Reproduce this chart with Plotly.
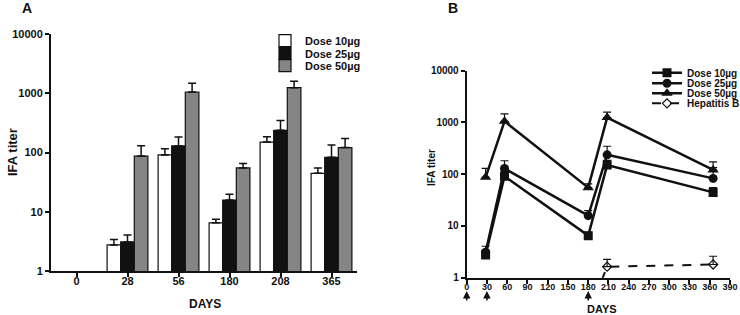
import plotly.graph_objects as go

# ---------------- data ----------------
days_cat = ["0", "28", "56", "180", "208", "365"]
days_num = [28, 56, 180, 208, 365]

dose10_mean = [None, 2.75, 91, 6.5, 150, 44.5]
dose10_err = [None, 0.65, 25, 1.0, 35, 10.5]
dose25_mean = [None, 3.1, 129, 15.8, 237, 83]
dose25_err = [None, 0.95, 53, 3.9, 110, 51]
dose50_mean = [None, 87, 1050, 55, 1240, 121]
dose50_err = [None, 43, 420, 10, 350, 52]

hepb_days = [180, 208, 365]
hepb_mean = [0.2, 1.63, 1.8]
hepb_err = [0, 0.64, 0.8]

vaccination_days = [0, 30, 180]

y_ticks = [1, 10, 100, 1000, 10000]
y_ticktext = ["1", "10", "100", "1000", "10000"]
xb_ticks = list(range(0, 391, 30))

series_names = ["Dose 10\u00b5g", "Dose 25\u00b5g", "Dose 50\u00b5g"]
bar_colors = ["#ffffff", "#111111", "#858585"]
symbols = ["square", "circle", "triangle-up"]

FONT = "Liberation Sans, Arial, sans-serif"
W, H = 740, 315

means = [dose10_mean, dose25_mean, dose50_mean]
errs = [dose10_err, dose25_err, dose50_err]

fig = go.Figure()

# ---------------- panel A : bars ----------------
legend_rows_a = [40.7, 53.3, 65.7]
for i in range(3):
    fig.add_trace(go.Bar(
        x=days_cat, y=means[i], name=series_names[i], showlegend=True,
        marker=dict(color=bar_colors[i], line=dict(color="#111111", width=1.2)),
        error_y=dict(type="data", array=errs[i], arrayminus=[0] * len(errs[i]),
                     symmetric=False, color="#111111", thickness=1.5, width=4),
        xaxis="x", yaxis="y", legend="legend" if i == 0 else f"legend{i+1}",
    ))

# ---------------- panel B : lines ----------------
for i in range(3):
    fig.add_trace(go.Scatter(
        x=days_num, y=means[i][1:], name=series_names[i], mode="lines+markers",
        showlegend=True,
        line=dict(color="#111111", width=2.5),
        marker=dict(symbol=symbols[i], size=9 if i < 2 else 10, color="#111111"),
        error_y=dict(type="data", array=errs[i][1:], arrayminus=[0] * 5,
                     symmetric=False, color="#111111", thickness=1.2, width=4),
        xaxis="x2", yaxis="y2", legend=f"legend{i+4}",
    ))
fig.add_trace(go.Scatter(
    x=hepb_days, y=hepb_mean, name="Hepatitis B", mode="lines+markers",
    showlegend=True,
    line=dict(color="#111111", width=2, dash="dash"),
    marker=dict(symbol="diamond-open", size=7, color="#111111", line=dict(width=1.2)),
    error_y=dict(type="data", array=hepb_err, arrayminus=[0] * 3, symmetric=False,
                 color="#111111", thickness=1.2, width=4),
    xaxis="x2", yaxis="y2", legend="legend7",
))

legend_rows_b = [72.7, 83.3, 93.3, 103.3]

def leg(xpx, ypx, size):
    return dict(x=(xpx - 40) / W, y=1 - ypx / H, xanchor="left", yanchor="middle",
                bgcolor="rgba(0,0,0,0)", borderwidth=0, visible=True,
                font=dict(family=FONT, size=size, color="#111111", weight="bold"),
                itemclick=False, itemdoubleclick=False)

legends = {}
for i, yy in enumerate(legend_rows_a):
    legends["legend" if i == 0 else f"legend{i+1}"] = leg(305, yy, 11)
for i, yy in enumerate(legend_rows_b):
    legends[f"legend{i+4}"] = leg(687, yy, 10)

axis_common = dict(showline=True, linecolor="#111111", linewidth=2, ticks="outside",
                   tickcolor="#111111", tickwidth=1.5, ticklen=4, showgrid=False,
                   zeroline=False, automargin=False)

fig.update_layout(
    width=W, height=H, autosize=False, showlegend=True,
    margin=dict(l=0, r=0, t=0, b=0, autoexpand=False),
    paper_bgcolor="white", plot_bgcolor="white",
    barmode="group", bargap=0.2, bargroupgap=0,
    font=dict(family=FONT, color="#111111"),
    xaxis=dict(domain=[51 / W, 357 / W], type="category", categoryorder="array",
               categoryarray=days_cat, range=[-0.5, 5.5], anchor="y",
               ticklabelstandoff=-5,
               tickfont=dict(size=11, weight="bold"), **axis_common),
    yaxis=dict(domain=[1 - 271 / H, 1 - 34 / H], type="log", range=[0, 4], anchor="x",
               tickvals=y_ticks, ticktext=y_ticktext,
               tickfont=dict(size=11, weight="bold"), **axis_common),
    xaxis2=dict(domain=[466.7 / W, 730 / W], range=[0, 390], anchor="y2",
                tickvals=xb_ticks, ticklabelstandoff=-5,
                tickfont=dict(size=9, weight="bold"), **axis_common),
    yaxis2=dict(domain=[1 - 277.7 / H, 1 - 70.7 / H], type="log", range=[0, 4],
                anchor="x2", tickvals=y_ticks, ticktext=y_ticktext,
                tickfont=dict(size=10, weight="bold"), **axis_common),
    **legends,
)

ann = [
    dict(text="A", x=20 / W, y=1 - 8 / H, xanchor="left", yanchor="middle",
         font=dict(size=14, weight="bold")),
    dict(text="B", x=446 / W, y=1 - 8 / H, xanchor="left", yanchor="middle",
         font=dict(size=14, weight="bold")),
    dict(text="IFA titer", x=12 / W, y=1 - 152 / H, textangle=-90,
         xanchor="center", yanchor="middle", font=dict(size=13, weight="bold")),
    dict(text="IFA titer", x=431 / W, y=1 - 168 / H, textangle=-90,
         xanchor="center", yanchor="middle", font=dict(size=10, weight="bold")),
    dict(text="DAYS", x=205 / W, y=1 - 304 / H, xanchor="center", yanchor="middle",
         font=dict(size=12, weight="bold")),
    dict(text="DAYS", x=602 / W, y=1 - 309 / H, xanchor="center", yanchor="middle",
         font=dict(size=11, weight="bold")),
]
for a in ann:
    a.update(xref="paper", yref="paper", showarrow=False)
    a["font"].update(family=FONT, color="#111111")
    fig.add_annotation(**a)

for d in vaccination_days:
    fig.add_annotation(x=d, y=1 - 291 / H, xref="x2", yref="paper", text="",
                       showarrow=True, ax=0, ay=11, arrowhead=2, arrowsize=1,
                       arrowwidth=1.5, arrowcolor="#111111")

fig.write_html(
    "out.html",
    config={"displayModeBar": False},
    post_script="document.body.style.margin='0';document.body.style.overflow='hidden';",
)
